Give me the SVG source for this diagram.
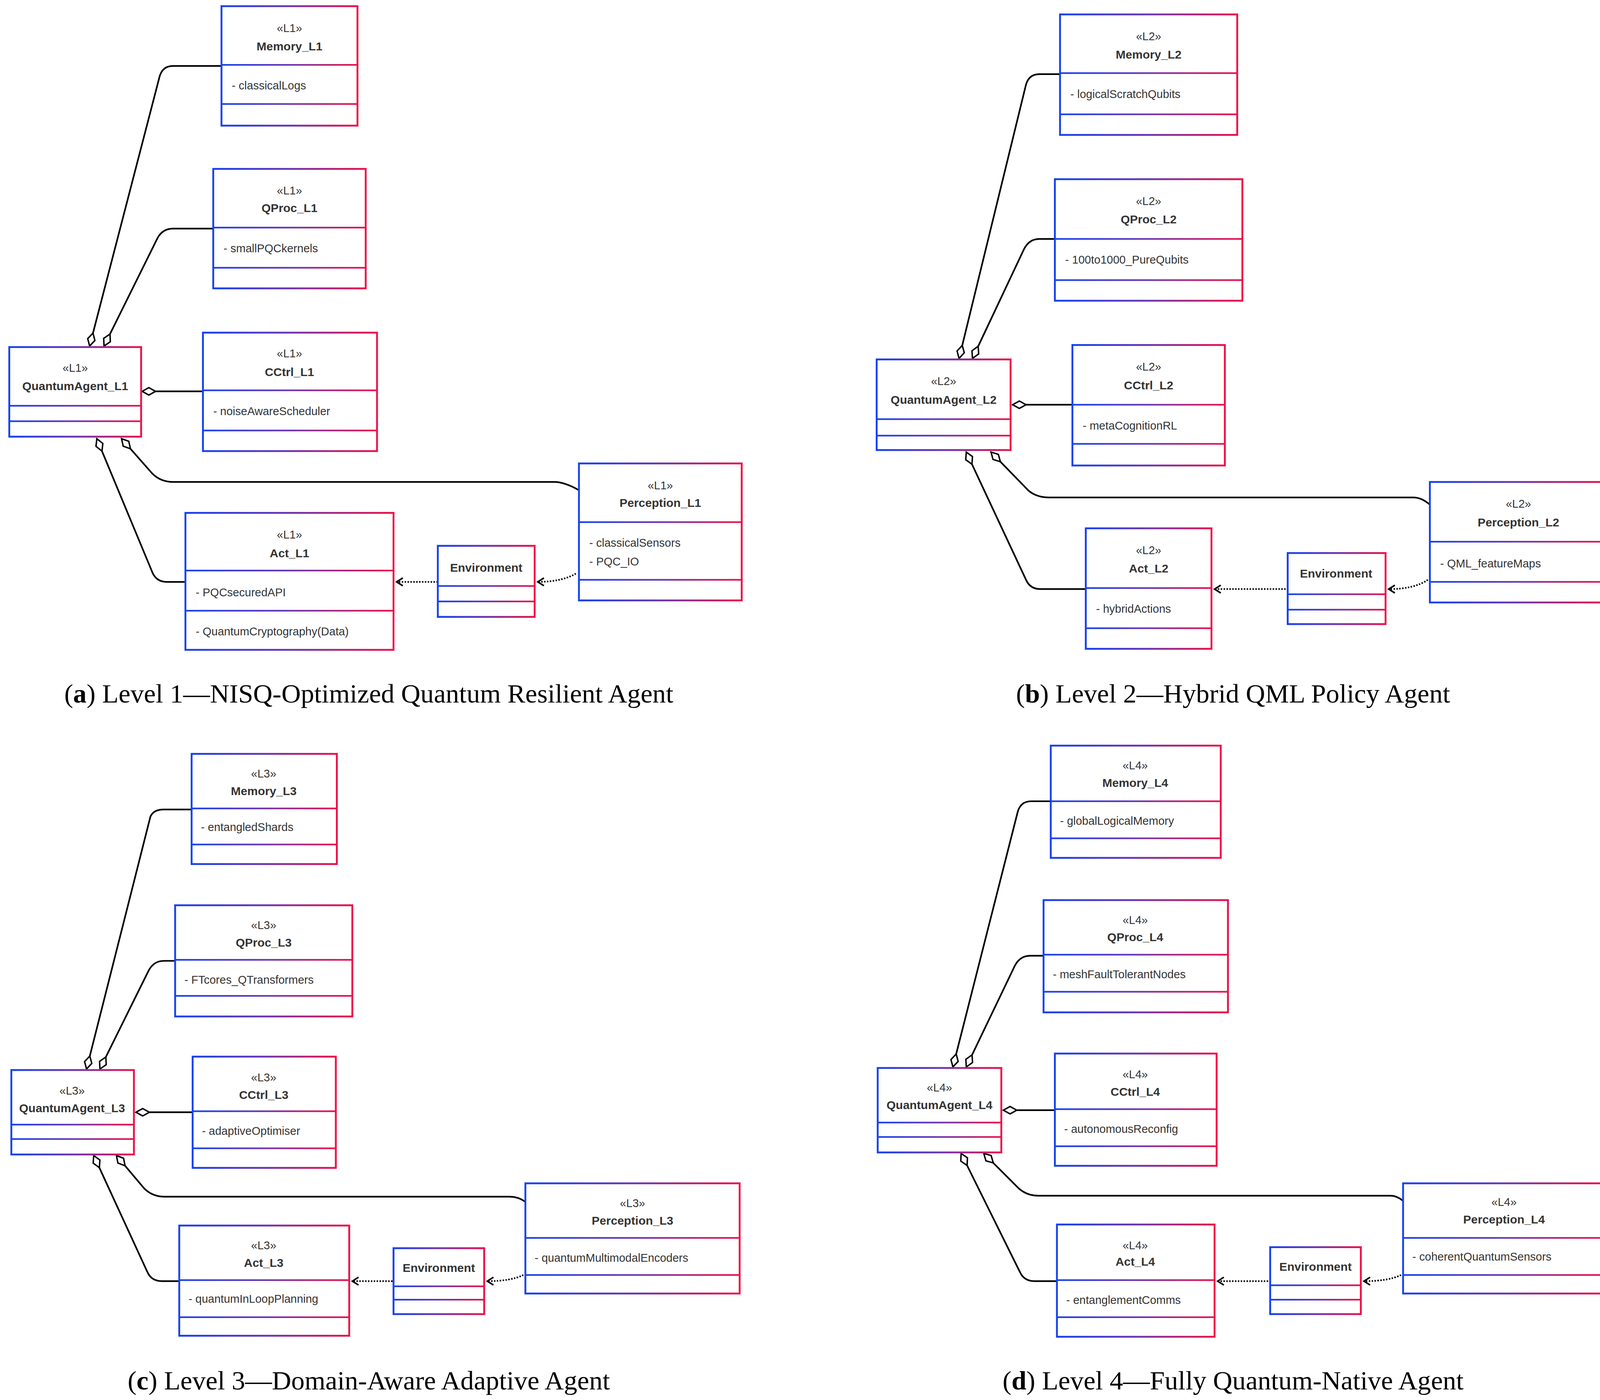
<svg xmlns="http://www.w3.org/2000/svg" width="4135" height="3585" viewBox="0 0 4135 3585">
<defs>
<linearGradient id="g" x1="0" y1="0" x2="1" y2="0">
<stop offset="0" stop-color="#1541f2"/><stop offset="0.5" stop-color="#6b36b2"/><stop offset="1" stop-color="#ef0f47"/>
</linearGradient>
<marker id="dia" markerUnits="userSpaceOnUse" markerWidth="20" markerHeight="20" refX="0" refY="0" orient="auto" overflow="visible">
<path d="M0,0 L6.5,-3.6 L13,0 L6.5,3.6 Z" fill="#fff" stroke="#000" stroke-width="1.4"/>
</marker>
<marker id="arr" markerUnits="userSpaceOnUse" markerWidth="20" markerHeight="20" refX="0" refY="0" orient="auto" overflow="visible">
<path d="M-6,-3.8 L0,0 L-6,3.8" fill="none" stroke="#000" stroke-width="1.5"/>
</marker>
</defs>
<style>
.box{fill:#fff;stroke:url(#g);stroke-width:1.8}
.dv{fill:url(#g)}
text{font-family:"Liberation Sans",Arial,sans-serif;fill:#333}
.st{font-size:11px;text-anchor:middle}
.nm{font-size:11.5px;font-weight:bold;text-anchor:middle}
.at{font-size:11px}
.cap{font-family:"Liberation Serif","Times New Roman",serif;font-size:26px;fill:#000;text-anchor:middle}
.ln{fill:none;stroke:#000;stroke-width:1.6;marker-start:url(#dia)}
.dt{fill:none;stroke:#000;stroke-width:1.6;stroke-dasharray:1.4 1.4;marker-end:url(#arr)}
</style>
<rect width="4135" height="3585" fill="#fff"/>
<g transform="scale(2.6372)">
<g id="connectors">
<path class="ln" d="M87,336 L155,74 Q158,64 168,64 L215,64"/>
<path class="ln" d="M101,336 L153,231 Q158,222 168,222 L207,222"/>
<path class="ln" d="M138,380 L197,380"/>
<path class="ln" d="M118,426 L148,460 Q156,468 168,468 L538,468 Q548,468 562,476"/>
<path class="ln" d="M94,426 L148,556 Q152,565 162,565 L180,565"/>
<path class="dt" d="M425,565 L385,565"/>
<path class="dt" d="M559,557 Q545,565 522,565"/>
<path class="ln" d="M931,348 L996,82 Q999,72 1009,72 L1029,72"/>
<path class="ln" d="M944,348 L994,242 Q999,232 1009,232 L1024,232"/>
<path class="ln" d="M983,393 L1041,393"/>
<path class="ln" d="M962,439 L998,476 Q1006,483 1018,483 L1372,483 Q1380,483 1388,490"/>
<path class="ln" d="M938,439 L996,563 Q1000,572 1010,572 L1054,572"/>
<path class="dt" d="M1248,572 L1179,572"/>
<path class="dt" d="M1386,563 Q1373,572 1348,572"/>
<path class="ln" d="M84,1038 L146,793 Q149,786 159,786 L186,786"/>
<path class="ln" d="M97,1038 L144,943 Q149,933 159,933 L170,933"/>
<path class="ln" d="M132,1080 L187,1080"/>
<path class="ln" d="M113,1122 L140,1154 Q148,1162 160,1162 L495,1162 Q503,1162 510,1167"/>
<path class="ln" d="M91,1122 L143,1235 Q147,1244 157,1244 L174,1244"/>
<path class="dt" d="M381,1244 L342,1244"/>
<path class="dt" d="M508,1238 Q496,1244 473,1244"/>
<path class="ln" d="M925,1036 L988,788 Q991,778 1001,778 L1020,778"/>
<path class="ln" d="M938,1036 L985,938 Q990,928 1000,928 L1013,928"/>
<path class="ln" d="M974,1078 L1024,1078"/>
<path class="ln" d="M955,1120 L988,1153 Q996,1161 1008,1161 L1350,1161 Q1356,1161 1362,1166"/>
<path class="ln" d="M933,1120 L990,1235 Q994,1244 1004,1244 L1026,1244"/>
<path class="dt" d="M1231,1244 L1182,1244"/>
<path class="dt" d="M1360,1238 Q1348,1244 1324,1244"/>
</g>

<!-- Panel a -->
<g id="Memory_L1"><rect class="box" x="215" y="6" width="132" height="116"/><rect class="dv" x="215" y="62.2" width="132" height="1.6"/><rect class="dv" x="215" y="100.2" width="132" height="1.6"/><text class="st" x="281" y="31">«L1»</text><text class="nm" x="281" y="49">Memory_L1</text><text class="at" x="225" y="87">- classicalLogs</text></g>
<g id="QProc_L1"><rect class="box" x="207" y="164" width="148" height="116"/><rect class="dv" x="207" y="220.2" width="148" height="1.6"/><rect class="dv" x="207" y="259.2" width="148" height="1.6"/><text class="st" x="281" y="189">«L1»</text><text class="nm" x="281" y="206">QProc_L1</text><text class="at" x="217" y="245">- smallPQCkernels</text></g>
<g id="CCtrl_L1"><rect class="box" x="197" y="323" width="169" height="115"/><rect class="dv" x="197" y="378.2" width="169" height="1.6"/><rect class="dv" x="197" y="417.2" width="169" height="1.6"/><text class="st" x="281" y="347">«L1»</text><text class="nm" x="281" y="365">CCtrl_L1</text><text class="at" x="207" y="403">- noiseAwareScheduler</text></g>
<g id="QuantumAgent_L1"><rect class="box" x="9" y="337" width="128" height="87"/><rect class="dv" x="9" y="393.2" width="128" height="1.6"/><rect class="dv" x="9" y="408.2" width="128" height="1.6"/><text class="st" x="73" y="361">«L1»</text><text class="nm" x="73" y="379">QuantumAgent_L1</text></g>
<g id="Perception_L1"><rect class="box" x="562" y="450" width="158" height="133"/><rect class="dv" x="562" y="506.2" width="158" height="1.6"/><rect class="dv" x="562" y="562.2" width="158" height="1.6"/><text class="st" x="641" y="475">«L1»</text><text class="nm" x="641" y="492">Perception_L1</text><text class="at" x="572" y="531">- classicalSensors</text><text class="at" x="572" y="549">- PQC_IO</text></g>
<g id="Act_L1"><rect class="box" x="180" y="498" width="202" height="133"/><rect class="dv" x="180" y="553.2" width="202" height="1.6"/><rect class="dv" x="180" y="592.2" width="202" height="1.6"/><text class="st" x="281" y="523">«L1»</text><text class="nm" x="281" y="541">Act_L1</text><text class="at" x="190" y="579">- PQCsecuredAPI</text><text class="at" x="190" y="617">- QuantumCryptography(Data)</text></g>
<g id="Environment_L1"><rect class="box" x="425" y="530" width="94" height="69"/><rect class="dv" x="425" y="568.2" width="94" height="1.6"/><rect class="dv" x="425" y="583.2" width="94" height="1.6"/><text class="nm" x="472" y="555">Environment</text></g>
<text class="cap" x="358" y="682">(<tspan font-weight="bold">a</tspan>) Level 1—NISQ-Optimized Quantum Resilient Agent</text>

<!-- Panel b -->
<g id="Memory_L2"><rect class="box" x="1029" y="14" width="172" height="117"/><rect class="dv" x="1029" y="70.2" width="172" height="1.6"/><rect class="dv" x="1029" y="110.2" width="172" height="1.6"/><text class="st" x="1115" y="39">«L2»</text><text class="nm" x="1115" y="57">Memory_L2</text><text class="at" x="1039" y="95">- logicalScratchQubits</text></g>
<g id="QProc_L2"><rect class="box" x="1024" y="174" width="182" height="118"/><rect class="dv" x="1024" y="231.2" width="182" height="1.6"/><rect class="dv" x="1024" y="271.2" width="182" height="1.6"/><text class="st" x="1115" y="199">«L2»</text><text class="nm" x="1115" y="217">QProc_L2</text><text class="at" x="1034" y="256">- 100to1000_PureQubits</text></g>
<g id="CCtrl_L2"><rect class="box" x="1041" y="335" width="148" height="117"/><rect class="dv" x="1041" y="392.2" width="148" height="1.6"/><rect class="dv" x="1041" y="430.2" width="148" height="1.6"/><text class="st" x="1115" y="360">«L2»</text><text class="nm" x="1115" y="378">CCtrl_L2</text><text class="at" x="1051" y="417">- metaCognitionRL</text></g>
<g id="QuantumAgent_L2"><rect class="box" x="851" y="349" width="130" height="88"/><rect class="dv" x="851" y="406.2" width="130" height="1.6"/><rect class="dv" x="851" y="422.2" width="130" height="1.6"/><text class="st" x="916" y="374">«L2»</text><text class="nm" x="916" y="392">QuantumAgent_L2</text></g>
<g id="Perception_L2"><rect class="box" x="1388" y="468" width="171" height="117"/><rect class="dv" x="1388" y="525.2" width="171" height="1.6"/><rect class="dv" x="1388" y="564.2" width="171" height="1.6"/><text class="st" x="1474" y="493">«L2»</text><text class="nm" x="1474" y="511">Perception_L2</text><text class="at" x="1398" y="551">- QML_featureMaps</text></g>
<g id="Act_L2"><rect class="box" x="1054" y="513" width="122" height="117"/><rect class="dv" x="1054" y="570.2" width="122" height="1.6"/><rect class="dv" x="1054" y="609.2" width="122" height="1.6"/><text class="st" x="1115" y="538">«L2»</text><text class="nm" x="1115" y="556">Act_L2</text><text class="at" x="1064" y="595">- hybridActions</text></g>
<g id="Environment_L2"><rect class="box" x="1250" y="537" width="95" height="69"/><rect class="dv" x="1250" y="576.2" width="95" height="1.6"/><rect class="dv" x="1250" y="591.2" width="95" height="1.6"/><text class="nm" x="1297" y="561">Environment</text></g>
<text class="cap" x="1197" y="682">(<tspan font-weight="bold">b</tspan>) Level 2—Hybrid QML Policy Agent</text>

<!-- Panel c -->
<g id="Memory_L3"><rect class="box" x="186" y="732" width="141" height="107"/><rect class="dv" x="186" y="784.2" width="141" height="1.6"/><rect class="dv" x="186" y="819.2" width="141" height="1.6"/><text class="st" x="256" y="755">«L3»</text><text class="nm" x="256" y="772">Memory_L3</text><text class="at" x="195" y="807" font-size="10.5">- entangledShards</text></g>
<g id="QProc_L3"><rect class="box" x="170" y="879" width="172" height="108"/><rect class="dv" x="170" y="931.2" width="172" height="1.6"/><rect class="dv" x="170" y="966.2" width="172" height="1.6"/><text class="st" x="256" y="902">«L3»</text><text class="nm" x="256" y="919">QProc_L3</text><text class="at" x="179" y="955" font-size="10.5">- FTcores_QTransformers</text></g>
<g id="CCtrl_L3"><rect class="box" x="187" y="1026" width="139" height="108"/><rect class="dv" x="187" y="1078.2" width="139" height="1.6"/><rect class="dv" x="187" y="1114.2" width="139" height="1.6"/><text class="st" x="256" y="1050">«L3»</text><text class="nm" x="256" y="1067">CCtrl_L3</text><text class="at" x="196" y="1102" font-size="10.5">- adaptiveOptimiser</text></g>
<g id="QuantumAgent_L3"><rect class="box" x="11" y="1039" width="119" height="82"/><rect class="dv" x="11" y="1091.2" width="119" height="1.6"/><rect class="dv" x="11" y="1105.2" width="119" height="1.6"/><text class="st" x="70" y="1063">«L3»</text><text class="nm" x="70" y="1080" font-size="10.8">QuantumAgent_L3</text></g>
<g id="Perception_L3"><rect class="box" x="510" y="1149" width="208" height="107"/><rect class="dv" x="510" y="1201.2" width="208" height="1.6"/><rect class="dv" x="510" y="1237.2" width="208" height="1.6"/><text class="st" x="614" y="1172">«L3»</text><text class="nm" x="614" y="1189">Perception_L3</text><text class="at" x="519" y="1225" font-size="10.5">- quantumMultimodalEncoders</text></g>
<g id="Act_L3"><rect class="box" x="174" y="1190" width="165" height="107"/><rect class="dv" x="174" y="1242.2" width="165" height="1.6"/><rect class="dv" x="174" y="1278.2" width="165" height="1.6"/><text class="st" x="256" y="1213">«L3»</text><text class="nm" x="256" y="1230">Act_L3</text><text class="at" x="183" y="1265" font-size="10.5">- quantumInLoopPlanning</text></g>
<g id="Environment_L3"><rect class="box" x="382" y="1212" width="88" height="64"/><rect class="dv" x="382" y="1248.2" width="88" height="1.6"/><rect class="dv" x="382" y="1261.2" width="88" height="1.6"/><text class="nm" x="426" y="1235" font-size="10.8">Environment</text></g>
<text class="cap" x="358" y="1349">(<tspan font-weight="bold">c</tspan>) Level 3—Domain-Aware Adaptive Agent</text>

<!-- Panel d -->
<g id="Memory_L4"><rect class="box" x="1020" y="724" width="165" height="109"/><rect class="dv" x="1020" y="777.2" width="165" height="1.6"/><rect class="dv" x="1020" y="813.2" width="165" height="1.6"/><text class="st" x="1102" y="747">«L4»</text><text class="nm" x="1102" y="764">Memory_L4</text><text class="at" x="1029" y="801" font-size="10.5">- globalLogicalMemory</text></g>
<g id="QProc_L4"><rect class="box" x="1013" y="874" width="179" height="109"/><rect class="dv" x="1013" y="926.2" width="179" height="1.6"/><rect class="dv" x="1013" y="962.2" width="179" height="1.6"/><text class="st" x="1102" y="897">«L4»</text><text class="nm" x="1102" y="914">QProc_L4</text><text class="at" x="1022" y="950" font-size="10.5">- meshFaultTolerantNodes</text></g>
<g id="CCtrl_L4"><rect class="box" x="1024" y="1023" width="157" height="109"/><rect class="dv" x="1024" y="1076.2" width="157" height="1.6"/><rect class="dv" x="1024" y="1112.2" width="157" height="1.6"/><text class="st" x="1102" y="1047">«L4»</text><text class="nm" x="1102" y="1064">CCtrl_L4</text><text class="at" x="1033" y="1100" font-size="10.5">- autonomousReconfig</text></g>
<g id="QuantumAgent_L4"><rect class="box" x="852" y="1037" width="120" height="82"/><rect class="dv" x="852" y="1089.2" width="120" height="1.6"/><rect class="dv" x="852" y="1103.2" width="120" height="1.6"/><text class="st" x="912" y="1060">«L4»</text><text class="nm" x="912" y="1077" font-size="10.8">QuantumAgent_L4</text></g>
<g id="Perception_L4"><rect class="box" x="1362" y="1149" width="197" height="107"/><rect class="dv" x="1362" y="1201.2" width="197" height="1.6"/><rect class="dv" x="1362" y="1237.2" width="197" height="1.6"/><text class="st" x="1460" y="1171">«L4»</text><text class="nm" x="1460" y="1188">Perception_L4</text><text class="at" x="1371" y="1224" font-size="10.5">- coherentQuantumSensors</text></g>
<g id="Act_L4"><rect class="box" x="1026" y="1189" width="153" height="109"/><rect class="dv" x="1026" y="1242.2" width="153" height="1.6"/><rect class="dv" x="1026" y="1278.2" width="153" height="1.6"/><text class="st" x="1102" y="1213">«L4»</text><text class="nm" x="1102" y="1229">Act_L4</text><text class="at" x="1035" y="1266" font-size="10.5">- entanglementComms</text></g>
<g id="Environment_L4"><rect class="box" x="1233" y="1211" width="88" height="65"/><rect class="dv" x="1233" y="1247.2" width="88" height="1.6"/><rect class="dv" x="1233" y="1261.2" width="88" height="1.6"/><text class="nm" x="1277" y="1234" font-size="10.8">Environment</text></g>
<text class="cap" x="1197" y="1349">(<tspan font-weight="bold">d</tspan>) Level 4—Fully Quantum-Native Agent</text>
</g>
</svg>
